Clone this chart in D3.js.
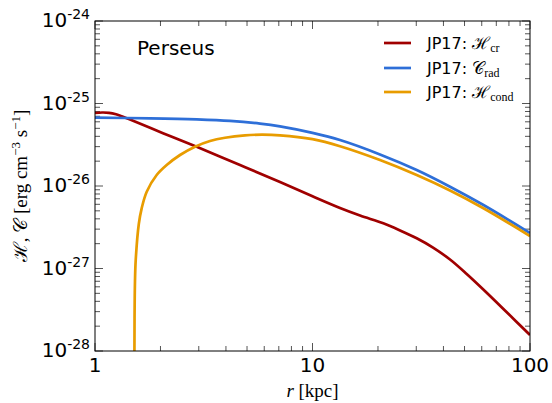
<!DOCTYPE html>
<html>
<head>
<meta charset="utf-8">
<script src="https://cdn.jsdelivr.net/npm/d3@7"></script>
<style>
body { margin: 0; background: #fff; }
text { fill: #000; }
</style>
</head>
<body>
<div id="chart-area"></div>
<script>
// values (r in kpc, rates in erg cm^-3 s^-1)
var rCr   = [1, 1.077, 1.160, 1.249, 1.345, 1.449, 2.054, 2.935, 4.642, 7.09, 10, 13.38, 16.54,
             21.16, 25.26, 30.14, 35.83, 42.88, 51.17, 61.0, 77.57, 100];
var hCr   = [7.671e-26, 7.779e-26, 7.714e-26, 7.397e-26, 6.897e-26, 6.379e-26, 4.365e-26, 2.986e-26,
             1.797e-26, 1.118e-26, 7.50e-27, 5.41e-27, 4.388e-27, 3.531e-27, 2.895e-27, 2.323e-27,
             1.792e-27, 1.285e-27, 8.58e-28, 5.565e-28, 3.012e-28, 1.563e-28];

var rRad  = [1, 1.79, 2.935, 4.175, 5.736, 7.09, 10, 13.38, 20.43, 30.14, 42.88, 60.8, 100];
var cRad  = [6.745e-26, 6.614e-26, 6.414e-26, 6.151e-26, 5.705e-26, 5.278e-26, 4.402e-26, 3.610e-26,
             2.415e-26, 1.563e-26, 9.81e-27, 5.92e-27, 2.693e-27];

var rCond = [1.5155, 1.52, 1.527, 1.539, 1.590, 1.639, 1.729, 1.921, 2.136, 2.46, 2.883, 3.38,
             3.961, 4.894, 5.861, 7.09, 10, 13.38, 20.43, 30.14, 42.88, 60.8, 100];
var hCond = [1e-29, 2.5e-28, 7e-28, 1.27e-27, 3.462e-27, 5.365e-27, 8.53e-27, 1.359e-26, 1.797e-26,
             2.375e-26, 2.995e-26, 3.511e-26, 3.849e-26, 4.116e-26, 4.186e-26, 4.116e-26, 3.692e-26,
             3.037e-26, 2.066e-26, 1.359e-26, 8.82e-27, 5.41e-27, 2.477e-27];

var xTicks = [1, 10, 100];
var yExps  = [-28, -27, -26, -25, -24];

var seriesNames = ["cr", "rad", "cond"];

var margin = { left: 95, right: 22, top: 21, bottom: 52 };
var width = 552 - margin.left - margin.right,
    height = 403 - margin.top - margin.bottom;

var svg = d3.select("#chart-area")
    .append("svg")
        .attr("width", 552)
        .attr("height", 403);

var g = svg.append("g")
    .attr("transform", "translate(" + margin.left + ", " + margin.top + ")");

var xScale = d3.scaleLog().domain([1, 100]).range([0, width]);
var yScale = d3.scaleLog().domain([1e-28, 1e-24]).range([height, 0]);

svg.append("defs").append("clipPath")
    .attr("id", "clip")
  .append("rect")
    .attr("width", width)
    .attr("height", height);

// minor + major ticks, inward on all four sides
var xMinor = [], yMinor = [];
[1, 10].forEach(function(b) {
    for (var k = 2; k < 10; k++) xMinor.push(b * k);
});
yExps.slice(0, -1).forEach(function(e) {
    for (var k = 2; k < 10; k++) yMinor.push(k * Math.pow(10, e));
});

var tickColor = "#555";
function vTicks(vals, len) {
    vals.forEach(function(v) {
        var x = xScale(v);
        g.append("line").attr("x1", x).attr("x2", x).attr("y1", height).attr("y2", height - len)
            .attr("stroke", tickColor);
        g.append("line").attr("x1", x).attr("x2", x).attr("y1", 0).attr("y2", len)
            .attr("stroke", tickColor);
    });
}
function hTicks(vals, len) {
    vals.forEach(function(v) {
        var y = yScale(v);
        g.append("line").attr("x1", 0).attr("x2", len).attr("y1", y).attr("y2", y)
            .attr("stroke", tickColor);
        g.append("line").attr("x1", width).attr("x2", width - len).attr("y1", y).attr("y2", y)
            .attr("stroke", tickColor);
    });
}
vTicks(xMinor, 5);
vTicks(xTicks, 8);
hTicks(yMinor, 5);
hTicks(yExps.map(function(e) { return Math.pow(10, e); }), 8);

// curves
var line = d3.line()
    .x(function(d) { return xScale(d[0]); })
    .y(function(d) { return yScale(d[1]); })
    .curve(d3.curveCatmullRom.alpha(0.5));

var curves = [
    { r: rCr,   v: hCr,   color: "#a00000" },
    { r: rRad,  v: cRad,  color: "#2e6fd8" },
    { r: rCond, v: hCond, color: "#e89c00" }
];

var plot = g.append("g").attr("clip-path", "url(#clip)");
curves.forEach(function(c) {
    plot.append("path")
        .attr("d", line(d3.zip(c.r, c.v)))
        .attr("fill", "none")
        .attr("stroke", c.color)
        .attr("stroke-width", 2.7);
});

// frame
g.append("rect")
    .attr("width", width)
    .attr("height", height)
    .attr("fill", "none")
    .attr("stroke", "#000")
    .attr("stroke-width", 1);

// tick labels
var sans = "DejaVu Sans";
xTicks.forEach(function(v) {
    g.append("text")
        .attr("x", xScale(v))
        .attr("y", height + 21)
        .attr("text-anchor", "middle")
        .attr("font-family", sans)
        .attr("font-size", "20px")
        .text(v);
});

yExps.forEach(function(e) {
    var t = g.append("text")
        .attr("x", -5)
        .attr("y", yScale(Math.pow(10, e)) + 6)
        .attr("text-anchor", "end")
        .attr("font-family", sans)
        .attr("font-size", "20px");
    t.append("tspan").text("10");
    t.append("tspan").attr("dy", -8).attr("font-size", "14px").text(e);
});

// axis titles
var serif = "Liberation Serif";
var xl = svg.append("text")
    .attr("x", margin.left + xScale(10))
    .attr("y", 397)
    .attr("text-anchor", "middle")
    .attr("font-family", serif)
    .attr("font-size", "19px");
xl.append("tspan").attr("font-style", "italic").text("r");
xl.append("tspan").text(" [kpc]");

var yl = svg.append("text")
    .attr("transform", "translate(27, " + (margin.top + height / 2) + ") rotate(-90)")
    .attr("text-anchor", "middle")
    .attr("font-family", serif)
    .attr("font-size", "19px");
yl.append("tspan").text("ℋ, 𝒞 [erg cm");
yl.append("tspan").attr("dy", -7).attr("font-size", "13px").text("−3");
yl.append("tspan").attr("dy", 7).text(" s");
yl.append("tspan").attr("dy", -7).attr("font-size", "13px").text("−1");
yl.append("tspan").attr("dy", 7).text("]");

// annotation
g.append("text")
    .attr("x", 42)
    .attr("y", 34)
    .attr("font-family", sans)
    .attr("font-size", "20px")
    .text("Perseus");

// legend
var legSym = ["ℋ", "𝒞", "ℋ"];
var legY = [22, 47, 71];
curves.forEach(function(c, i) {
    g.append("line")
        .attr("x1", 289).attr("x2", 316)
        .attr("y1", legY[i]).attr("y2", legY[i])
        .attr("stroke", c.color)
        .attr("stroke-width", 2.7);
    var t = g.append("text")
        .attr("x", 332)
        .attr("y", legY[i] + 6)
        .attr("font-family", sans)
        .attr("font-size", "16px");
    t.append("tspan").text("JP17: ");
    t.append("tspan").attr("font-family", serif).attr("font-size", "17px").text(legSym[i]);
    t.append("tspan").attr("font-family", serif).attr("font-size", "12px").attr("dy", 3)
        .text(seriesNames[i]);
});
</script>
</body>
</html>
